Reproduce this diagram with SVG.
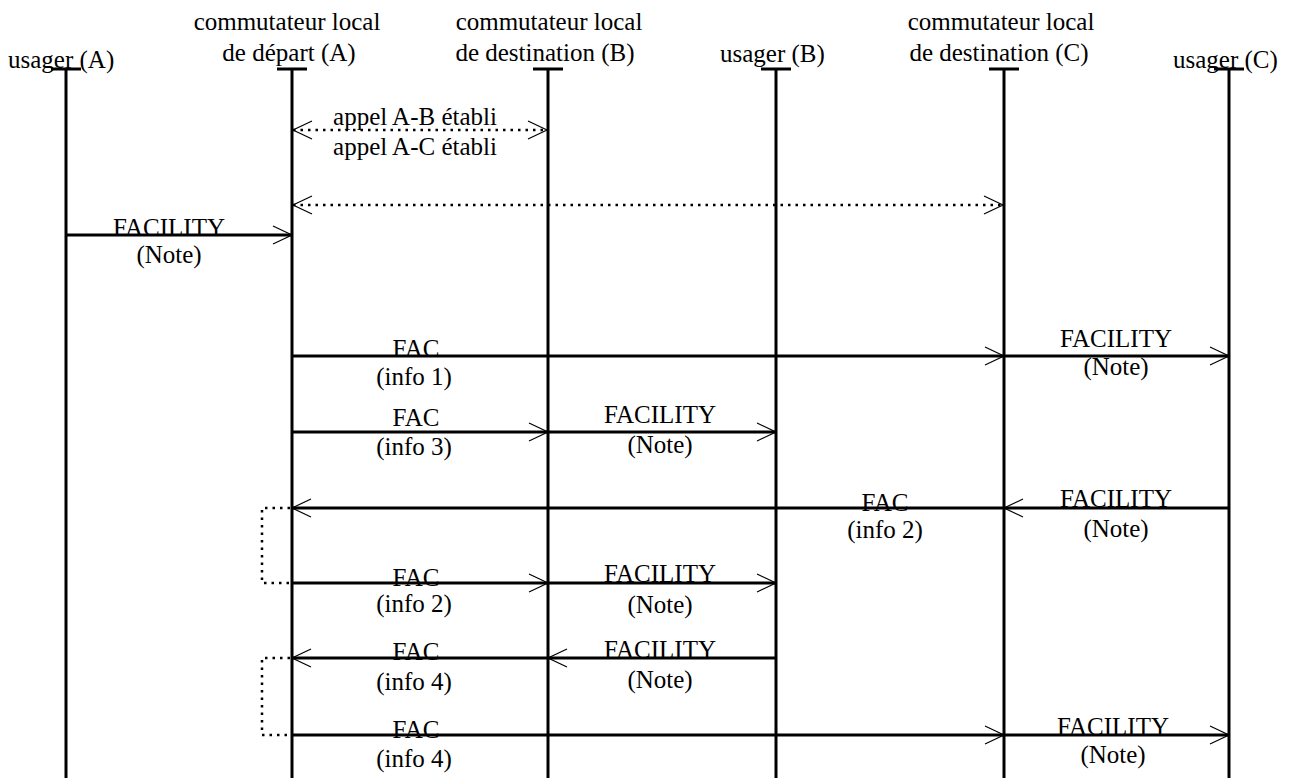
<svg xmlns="http://www.w3.org/2000/svg" width="1289" height="778" viewBox="0 0 1289 778">
<defs>
<marker id="ah" markerUnits="userSpaceOnUse" viewBox="-21 -11 23 22" refX="0" refY="0" markerWidth="23" markerHeight="22" orient="auto-start-reverse">
<path d="M-19,-9 L0,0 L-19,9" fill="none" stroke="#000" stroke-width="1.2"/>
</marker>
</defs>
<style>
text{font-family:"Liberation Serif","Times New Roman",serif;font-size:25px;fill:#000}
.c{text-anchor:middle}
.life{stroke:#000;stroke-width:3;fill:none}
.msg{stroke:#000;stroke-width:3;fill:none;marker-end:url(#ah)}
.dot{stroke:#000;stroke-width:2.5;stroke-dasharray:2.5 5;fill:none}
.dbl{marker-start:url(#ah);marker-end:url(#ah)}
.br{stroke:#000;stroke-width:2.5;stroke-dasharray:2.5 5;fill:none}
</style>
<rect width="1289" height="778" fill="#fff"/>
<g id="usagerA">
<text x="8" y="68">usager (A)</text>
<path class="life" d="M51,69 H81 M66,69 V778"/>
</g>
<g id="commA">
<text class="c" x="287" y="30">commutateur local</text>
<text class="c" x="289" y="61">de départ (A)</text>
<path class="life" d="M277,69 H307 M292,69 V778"/>
</g>
<g id="commB">
<text class="c" x="549" y="30">commutateur local</text>
<text class="c" x="545" y="61">de destination (B)</text>
<path class="life" d="M533,69 H563 M548,69 V778"/>
</g>
<g id="usagerB">
<text x="720" y="62">usager (B)</text>
<path class="life" d="M761,69 H791 M776,69 V778"/>
</g>
<g id="commC">
<text class="c" x="1001" y="30">commutateur local</text>
<text class="c" x="999" y="61">de destination (C)</text>
<path class="life" d="M989,69 H1019 M1004,69 V778"/>
</g>
<g id="usagerC">
<text x="1173" y="68">usager (C)</text>
<path class="life" d="M1214,69 H1244 M1229,69 V778"/>
</g>
<g id="connectors">
<line class="dot dbl" x1="293" y1="130" x2="547" y2="130"/>
<line class="dot dbl" x1="293" y1="205" x2="1003" y2="205"/>
<line class="msg" x1="66" y1="235" x2="292" y2="235"/>
<line class="msg" x1="292" y1="356" x2="1004" y2="356"/>
<line class="msg" x1="1004" y1="356" x2="1229" y2="356"/>
<line class="msg" x1="292" y1="432" x2="548" y2="432"/>
<line class="msg" x1="548" y1="432" x2="776" y2="432"/>
<line class="msg" x1="1229" y1="508" x2="1004" y2="508"/>
<line class="msg" x1="1004" y1="508" x2="292" y2="508"/>
<line class="msg" x1="292" y1="583" x2="548" y2="583"/>
<line class="msg" x1="548" y1="583" x2="776" y2="583"/>
<line class="msg" x1="776" y1="658" x2="548" y2="658"/>
<line class="msg" x1="548" y1="658" x2="292" y2="658"/>
<line class="msg" x1="292" y1="735" x2="1004" y2="735"/>
<line class="msg" x1="1004" y1="735" x2="1229" y2="735"/>
<path class="br" d="M290,508 H262 V583 H290"/>
<path class="br" d="M290,658 H262 V735 H290"/>
</g>
<g id="labels">
<text class="c" x="415" y="125">appel A-B établi</text>
<text class="c" x="415" y="155">appel A-C établi</text>
<text class="c" x="169" y="236">FACILITY</text>
<text class="c" x="169" y="263">(Note)</text>
<text class="c" x="416" y="357">FAC</text>
<text class="c" x="414" y="385">(info 1)</text>
<text class="c" x="1116" y="347">FACILITY</text>
<text class="c" x="1116" y="375">(Note)</text>
<text class="c" x="416" y="426">FAC</text>
<text class="c" x="414" y="455">(info 3)</text>
<text class="c" x="660" y="423">FACILITY</text>
<text class="c" x="660" y="453">(Note)</text>
<text class="c" x="885" y="511">FAC</text>
<text class="c" x="885" y="538">(info 2)</text>
<text class="c" x="1116" y="507">FACILITY</text>
<text class="c" x="1116" y="537">(Note)</text>
<text class="c" x="416" y="586">FAC</text>
<text class="c" x="414" y="612">(info 2)</text>
<text class="c" x="660" y="582">FACILITY</text>
<text class="c" x="660" y="613">(Note)</text>
<text class="c" x="416" y="660">FAC</text>
<text class="c" x="414" y="690">(info 4)</text>
<text class="c" x="660" y="658">FACILITY</text>
<text class="c" x="660" y="688">(Note)</text>
<text class="c" x="416" y="738">FAC</text>
<text class="c" x="414" y="767">(info 4)</text>
<text class="c" x="1113" y="735">FACILITY</text>
<text class="c" x="1113" y="763">(Note)</text>
</g>
</svg>
